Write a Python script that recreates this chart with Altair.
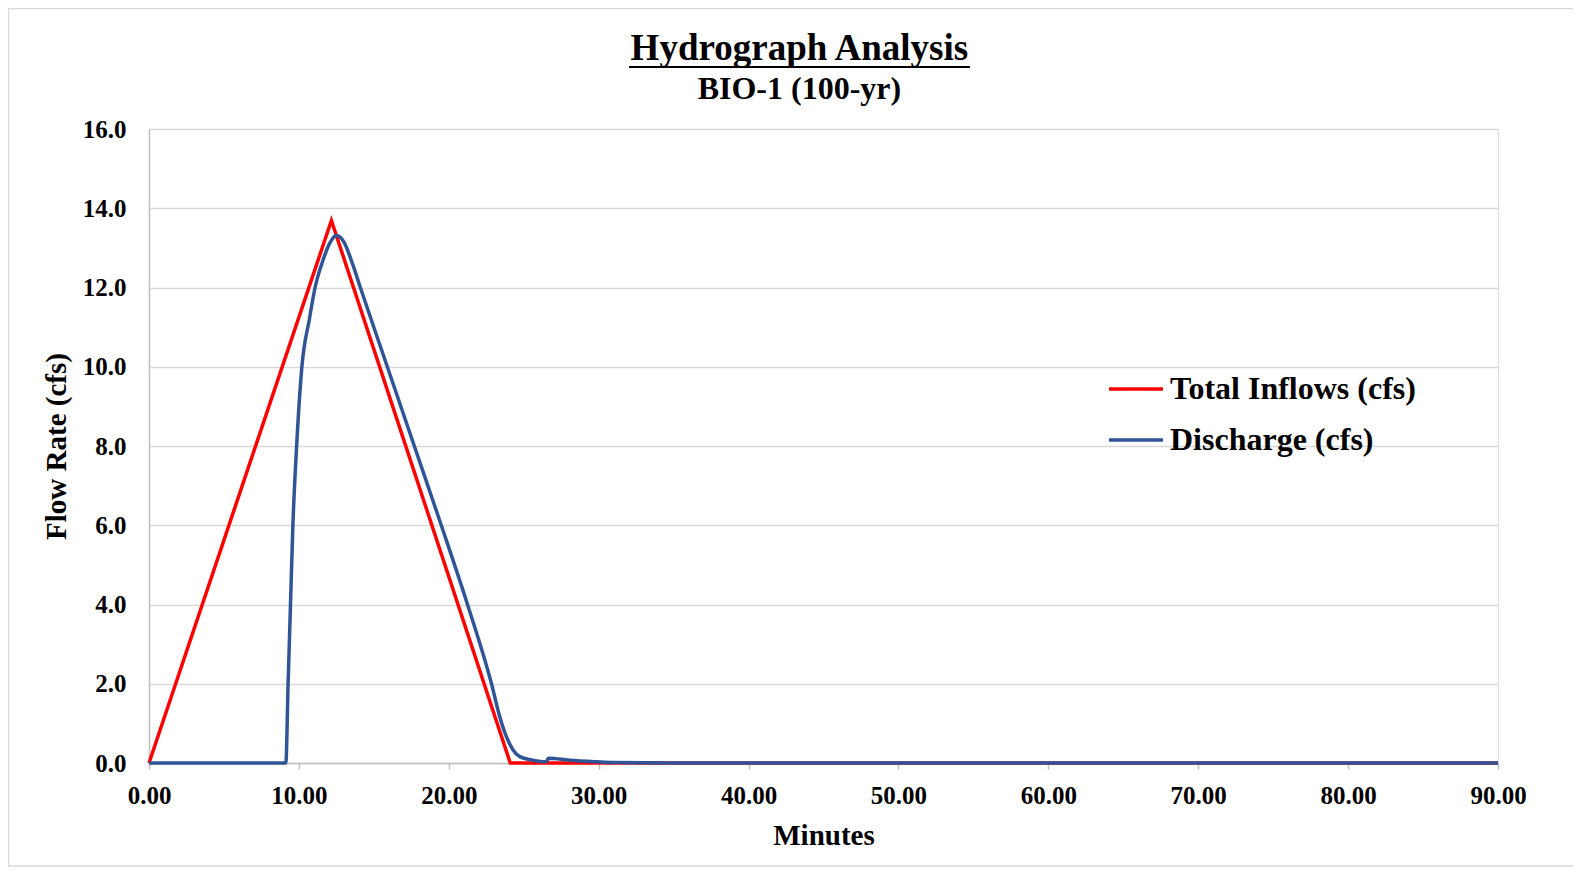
import altair as alt
import pandas as pd

TITLE = "Hydrograph Analysis"
SUBTITLE = "BIO-1 (100-yr)"
X_TITLE = "Minutes"
Y_TITLE = "Flow Rate (cfs)"
SERIES = ["Total Inflows (cfs)", "Discharge (cfs)"]
COLORS = ["#FF0000", "#2F5597"]

inflow_t = [0.0, 12.17, 24.10, 90.0]
inflow_q = [0.0, 13.69, 0.0, 0.0]

discharge_t = [0.0, 9.13, 9.28, 9.44, 9.60, 9.85, 10.20, 10.70, 11.08, 11.62,
               12.06, 12.50, 13.00, 13.62, 14.10, 15.90, 17.70, 19.50, 21.25,
               22.85, 23.40, 23.85, 24.29, 24.74, 25.62, 26.50, 26.65, 28.07, 29.85,
               31.0, 35.0, 90.0]
discharge_q = [0.0, 0.0, 2.0, 4.0, 6.0, 8.0, 10.0, 11.2, 12.0, 12.7,
               13.12, 13.31, 13.15, 12.55, 12.0, 10.0, 8.0, 6.0, 4.0,
               2.0, 1.17, 0.66, 0.33, 0.16, 0.07, 0.03, 0.12, 0.07, 0.03,
               0.01, 0.0, 0.0]

x_ticks = [0, 10, 20, 30, 40, 50, 60, 70, 80, 90]
y_ticks = [0, 2, 4, 6, 8, 10, 12, 14, 16]

FONT = "Liberation Serif"
W, H = 1349, 634

inflow_df = pd.DataFrame({"t": inflow_t, "q": inflow_q, "series": SERIES[0]})
disch_df = pd.DataFrame({"t": discharge_t, "q": discharge_q, "series": SERIES[1]})

color = alt.Color(
    "series:N",
    scale=alt.Scale(domain=SERIES, range=COLORS),
    legend=alt.Legend(
        orient="none", legendX=958, legendY=231, title=None,
        symbolType="stroke", symbolSize=2916, symbolStrokeWidth=3.5,
        labelFont=FONT, labelFontSize=32, labelFontWeight="bold",
        labelColor="black", labelOffset=5, labelLimit=0, padding=0,
        rowPadding=6,
    ),
)

x_enc = alt.X(
    "t:Q",
    scale=alt.Scale(domain=[0, 90], nice=False),
    axis=alt.Axis(
        values=x_ticks, format=".2f", grid=False,
        domainColor="#BFBFBF", domainWidth=1.5,
        tickColor="#BFBFBF", tickSize=6, tickWidth=1.5,
        labelFont=FONT, labelFontSize=25, labelFontWeight="bold",
        labelColor="black", labelBaseline="alphabetic", labelPadding=34,
        labelFlush=False, labelOverlap=False,
        title=X_TITLE, titleFont=FONT, titleFontSize=29, titleFontWeight="bold",
        titleColor="black", titleBaseline="alphabetic", titleY=81.6,
    ),
)
y_enc = alt.Y(
    "q:Q",
    scale=alt.Scale(domain=[0, 16], nice=False),
    axis=alt.Axis(
        values=y_ticks, format=".1f", grid=True,
        gridColor="#D9D9D9", gridWidth=1.5,
        domainColor="#BFBFBF", domainWidth=1.5,
        ticks=False, tickSize=0, labelPadding=23,
        labelFont=FONT, labelFontSize=25, labelFontWeight="bold",
        labelColor="black", labelBaseline="middle",
        title=Y_TITLE, titleFont=FONT, titleFontSize=29, titleFontWeight="bold",
        titleColor="black", titleAngle=270, titleBaseline="alphabetic",
        titleAlign="center", titleX=-84, titleY=H / 2,
    ),
)

inflow = alt.Chart(inflow_df).mark_line(strokeWidth=3.5).encode(
    x=x_enc, y=y_enc, color=color
)
discharge = alt.Chart(disch_df).mark_line(strokeWidth=3.5, interpolate="monotone").encode(
    x="t:Q", y="q:Q", color=color
)

one = pd.DataFrame({"k": [0]})
title_mark = alt.Chart(one).mark_text(
    text=TITLE, font=FONT, fontSize=37, fontWeight="bold", color="black",
    align="center", baseline="alphabetic",
).encode(x=alt.value(650.4), y=alt.value(-69.5))
subtitle_mark = alt.Chart(one).mark_text(
    text=SUBTITLE, font=FONT, fontSize=32, fontWeight="bold", color="black",
    align="center", baseline="alphabetic",
).encode(x=alt.value(650.4), y=alt.value(-30.5))
underline = alt.Chart(one).mark_rule(color="black", strokeWidth=2).encode(
    x=alt.value(480), x2=alt.value(821), y=alt.value(-62)
)
border = alt.Chart(one).mark_rect(filled=False, stroke="#D9D9D9", strokeWidth=1.5).encode(
    x=alt.value(-140.5), x2=alt.value(1500), y=alt.value(-120.5), y2=alt.value(737)
)

chart = alt.layer(border, inflow, discharge, title_mark, subtitle_mark, underline).properties(
    width=W, height=H,
    autosize=alt.AutoSizeParams(type="none"),
    padding={"left": 141, "top": 121, "right": 75, "bottom": 104},
).configure_view(stroke=None, strokeWidth=0).configure(background="white")

chart.save("out.html", embed_options={"renderer": "svg", "actions": False})
